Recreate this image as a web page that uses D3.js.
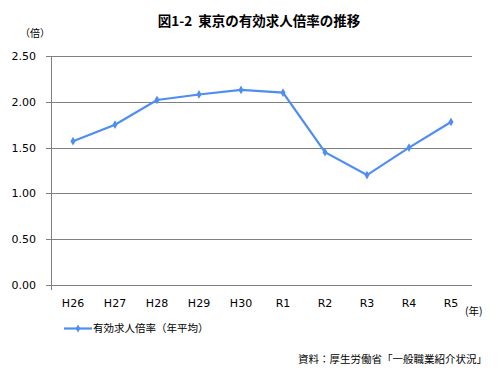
<!DOCTYPE html>
<html>
<head>
<meta charset="utf-8">
<script src="https://cdn.jsdelivr.net/npm/d3@7"></script>
<style>
  body { margin: 0; background: #fff; }
  text { font-family: "DejaVu Sans", Verdana, sans-serif; fill: #000; }
  .jp { font-family: "Noto Sans CJK JP", sans-serif; white-space: pre; }
</style>
</head>
<body>
<script>
// data
var years = ["H26", "H27", "H28", "H29", "H30", "R1", "R2", "R3", "R4", "R5"];
var ratio = [1.57, 1.75, 2.02, 2.08, 2.13, 2.10, 1.45, 1.20, 1.50, 1.78];
var yTicks = [0, 0.5, 1, 1.5, 2, 2.5];

var width = 499, height = 386;
var svg = d3.select('body').append('svg').attr('width', width).attr('height', height);

var x = d3.scaleBand().domain(years).range([52, 472]);
var y = d3.scaleLinear().domain([0, 2.5]).range([285, 56]);

// grid lines
svg.append('g').selectAll('line').data(yTicks).enter().append('line')
  .attr('x1', 46).attr('x2', 472)
  .attr('y1', function(d){ return Math.round(y(d)) + 0.5; })
  .attr('y2', function(d){ return Math.round(y(d)) + 0.5; })
  .attr('stroke', '#808080').attr('stroke-width', 1);

// y axis line
svg.append('line').attr('x1', 51.5).attr('x2', 51.5).attr('y1', 56).attr('y2', 290)
  .attr('stroke', '#808080');

// y tick labels
svg.append('g').selectAll('text').data(yTicks).enter().append('text')
  .attr('x', 36).attr('y', function(d){ return y(d) + 4; })
  .attr('text-anchor', 'end').attr('font-size', 11)
  .text(function(d){ return d3.format('.2f')(d); });

// x labels
svg.append('g').selectAll('text').data(years).enter().append('text')
  .attr('x', function(d){ return x(d) + x.bandwidth() / 2; })
  .attr('y', 307).attr('text-anchor', 'middle').attr('font-size', 11)
  .text(function(d){ return d; });

// line + markers
var line = d3.line()
  .x(function(d, i){ return x(years[i]) + x.bandwidth() / 2; })
  .y(function(d){ return y(d); });
svg.append('path').datum(ratio).attr('d', line)
  .attr('fill', 'none').attr('stroke', '#4f8ef0').attr('stroke-width', 2.2);
svg.append('g').selectAll('path').data(ratio).enter().append('path')
  .attr('d', d3.symbol().type(d3.symbolDiamond).size(22))
  .attr('transform', function(d, i){ return 'translate(' + (x(years[i]) + x.bandwidth() / 2) + ',' + y(d) + ')'; })
  .attr('fill', '#4f8ef0');

// titles and notes
svg.append('text').attr('class', 'jp').attr('x', 259).attr('y', 26)
  .attr('text-anchor', 'middle').attr('font-size', 13.5).attr('font-weight', 'bold')
  .text('図1-2  東京の有効求人倍率の推移');
svg.append('text').attr('class', 'jp').attr('x', 20).attr('y', 37).attr('font-size', 10).text('（倍）');
svg.append('text').attr('class', 'jp').attr('x', 465).attr('y', 315).attr('font-size', 10.5).text('(年)');

// legend
svg.append('line').attr('x1', 64).attr('x2', 92).attr('y1', 328.5).attr('y2', 328.5)
  .attr('stroke', '#4f8ef0').attr('stroke-width', 2.2);
svg.append('path').attr('d', d3.symbol().type(d3.symbolDiamond).size(18))
  .attr('transform', 'translate(78,328.5)').attr('fill', '#4f8ef0');
svg.append('text').attr('class', 'jp').attr('x', 93).attr('y', 332).attr('font-size', 10.5)
  .text('有効求人倍率（年平均）');

svg.append('text').attr('class', 'jp').attr('x', 487).attr('y', 363)
  .attr('text-anchor', 'end').attr('font-size', 10.5)
  .text('資料：厚生労働省「一般職業紹介状況」');
</script>
</body>
</html>
